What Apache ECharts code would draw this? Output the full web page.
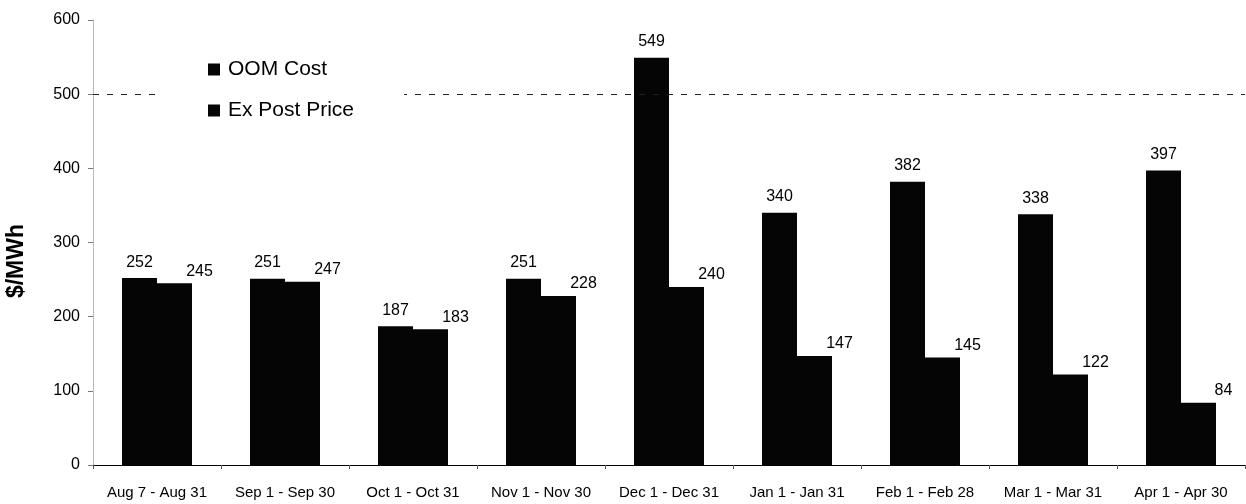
<!DOCTYPE html>
<html>
<head>
<meta charset="utf-8">
<script src="https://cdn.jsdelivr.net/npm/echarts@6/dist/echarts.min.js"></script>
<style>
  html, body { margin: 0; padding: 0; background: #fff; }
  #chart { width: 1246px; height: 504px; }
</style>
</head>
<body>
<div id="chart"></div>
<script>
// Monthly periods
const periods = [
  'Aug 7 - Aug 31', 'Sep 1 - Sep 30', 'Oct 1 - Oct 31', 'Nov 1 - Nov 30',
  'Dec 1 - Dec 31', 'Jan 1 - Jan 31', 'Feb 1 - Feb 28', 'Mar 1 - Mar 31', 'Apr 1 - Apr 30'
];
// $/MWh
const oomCost = [252, 251, 187, 251, 549, 340, 382, 338, 397];
const exPostPrice = [245, 247, 183, 228, 240, 147, 145, 122, 84];
// Reference level drawn as a dashed line
const capLevel = 500;

const font = '"Liberation Sans", Arial, Helvetica, sans-serif';
const chart = echarts.init(document.getElementById('chart'), null, { renderer: 'canvas' });

chart.setOption({
  animation: false,
  textStyle: { fontFamily: font, color: '#000' },
  grid: { left: 93, right: 1, top: 20, bottom: 39 },
  legend: {
    orient: 'vertical',
    left: 158,
    top: 51,
    z: 20,
    padding: [8, 50, 8, 50],
    itemGap: 20,
    itemWidth: 12,
    itemHeight: 12,
    backgroundColor: '#fff',
    icon: 'rect',
    textStyle: { fontFamily: font, fontSize: 21, color: '#000', padding: [0, 0, 0, 3] },
    data: ['OOM Cost', 'Ex Post Price']
  },
  graphic: [{
    type: 'text',
    left: 5,
    top: 224,
    rotation: Math.PI / 2,
    style: { text: '$/MWh', font: 'bold 23px ' + font, fill: '#000' }
  }],
  xAxis: {
    type: 'category',
    data: periods,
    axisLine: { lineStyle: { color: '#000', width: 1 } },
    axisTick: { show: true, alignWithLabel: false, length: 4, lineStyle: { color: '#555' } },
    axisLabel: { fontFamily: font, fontSize: 15, color: '#000', margin: 20, interval: 0 }
  },
  yAxis: {
    type: 'value',
    min: 0,
    max: 600,
    interval: 100,
    axisLine: { show: true, lineStyle: { color: '#aaa', type: 'dotted', width: 1 } },
    axisTick: { show: true, length: 5, lineStyle: { color: '#777' } },
    splitLine: { show: false },
    axisLabel: { fontFamily: font, fontSize: 16, color: '#000', margin: 13 }
  },
  series: [
    {
      name: 'OOM Cost',
      type: 'bar',
      data: oomCost,
      barWidth: 35,
      barGap: '0%',
      itemStyle: { color: '#050505' },
      label: { show: true, position: 'top', distance: 8, fontFamily: font, fontSize: 16, color: '#000' },
      z: 3
    },
    {
      name: 'Ex Post Price',
      type: 'bar',
      data: exPostPrice,
      barWidth: 35,
      barGap: '0%',
      itemStyle: { color: '#050505' },
      label: { show: true, position: 'top', distance: 4, offset: [25, 0], fontFamily: font, fontSize: 16, color: '#000' },
      z: 3
    },
    {
      // carries the dashed reference line behind the bars
      name: 'level',
      type: 'line',
      data: [],
      silent: true,
      z: 1,
      markLine: {
        silent: true,
        symbol: 'none',
        label: { show: false },
        lineStyle: { color: '#222', type: [6, 8], width: 1 },
        data: [{ yAxis: capLevel }]
      }
    }
  ]
});
</script>
</body>
</html>
